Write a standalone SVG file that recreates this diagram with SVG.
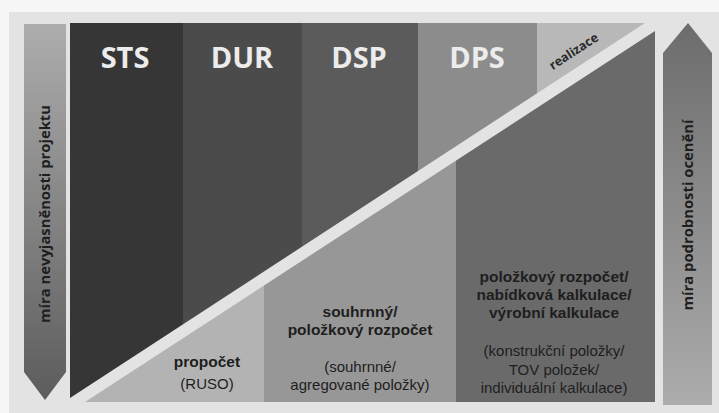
<svg xmlns="http://www.w3.org/2000/svg" width="719" height="413" viewBox="0 0 719 413">
  <style>
    .title { font-family: "Open Sans", "Liberation Sans", sans-serif; font-weight: bold; font-size: 29px; fill: #ececec; text-anchor: middle; }
    .lbl { font-family: "Liberation Sans", Arial, sans-serif; font-size: 15px; fill: #1e1e1e; text-anchor: middle; }
    .b { font-weight: bold; font-size: 15.5px; }
    .axis { font-family: "Open Sans", "Liberation Sans", sans-serif; font-weight: bold; font-size: 14.8px; fill: #1e1e1e; text-anchor: middle; }
    .real { font-family: "Open Sans", "Liberation Sans", sans-serif; font-weight: bold; font-size: 12.5px; fill: #2a2a2a; text-anchor: middle; }
  </style>
  <defs>
    <linearGradient id="gLeft" x1="0" y1="0" x2="0" y2="1">
      <stop offset="0" stop-color="#adadad"/>
      <stop offset="1" stop-color="#5c5c5c"/>
    </linearGradient>
    <linearGradient id="gRight" x1="0" y1="0" x2="0" y2="1">
      <stop offset="0" stop-color="#6c6c6c"/>
      <stop offset="1" stop-color="#acacac"/>
    </linearGradient>
    <clipPath id="upper">
      <polygon points="70,23 645,23 70,398"/>
    </clipPath>
    <clipPath id="lower">
      <polygon points="85,402 655,402 655,31"/>
    </clipPath>
  </defs>

  <rect x="0" y="0" width="719" height="413" fill="#f7f7f7"/>
  <rect x="9" y="12" width="710" height="401" fill="#e3e3e3"/>

  <g id="arrow-left">
    <polygon points="24,24 66,24 66,372 45,400 24,372" fill="url(#gLeft)"/>
    <text class="axis" transform="translate(50,214) rotate(-90)">míra nevyjasněnosti projektu</text>
  </g>

  <g id="phases" clip-path="url(#upper)">
    <g id="sts"><rect x="70" y="23" width="113" height="380" fill="#363636"/><text class="title" x="125" y="68">STS</text></g>
    <g id="dur"><rect x="183" y="23" width="119" height="380" fill="#4b4b4b"/><text class="title" x="242" y="68">DUR</text></g>
    <g id="dsp"><rect x="302" y="23" width="116" height="380" fill="#5b5b5b"/><text class="title" x="359" y="68">DSP</text></g>
    <g id="dps"><rect x="418" y="23" width="119" height="380" fill="#8c8c8c"/><text class="title" x="477" y="68">DPS</text></g>
    <g id="realizace"><rect x="537" y="23" width="110" height="380" fill="#b8b8b8"/></g>
  </g>
  <text class="real" transform="translate(576,55) rotate(-33)">realizace</text>

  <g id="estimates" clip-path="url(#lower)">
    <rect x="85" y="25" width="179" height="380" fill="#b3b3b3"/>
    <rect x="264" y="25" width="192" height="380" fill="#979797"/>
    <rect x="456" y="25" width="199" height="380" fill="#6a6a6a"/>
  </g>
  <g id="propocet">
    <text class="lbl b" x="207" y="367">propočet</text>
    <text class="lbl" x="207" y="389">(RUSO)</text>
  </g>
  <g id="souhrnny">
    <text class="lbl b" x="360" y="317">souhrnný/</text>
    <text class="lbl b" x="360" y="335">položkový rozpočet</text>
    <text class="lbl" x="360" y="372">(souhrnné/</text>
    <text class="lbl" x="360" y="390">agregované položky)</text>
  </g>
  <g id="polozkovy">
    <text class="lbl b" x="554" y="282">položkový rozpočet/</text>
    <text class="lbl b" x="554" y="300">nabídková kalkulace/</text>
    <text class="lbl b" x="554" y="318">výrobní kalkulace</text>
    <text class="lbl" x="554" y="356">(konstrukční položky/</text>
    <text class="lbl" x="554" y="375">TOV položek/</text>
    <text class="lbl" x="554" y="393">individuální kalkulace)</text>
  </g>

  <g id="arrow-right">
    <polygon points="663,53 688,23 712,53 712,405 663,405" fill="url(#gRight)"/>
    <text class="axis" transform="translate(693,215) rotate(-90)">míra podrobnosti ocenění</text>
  </g>
</svg>
